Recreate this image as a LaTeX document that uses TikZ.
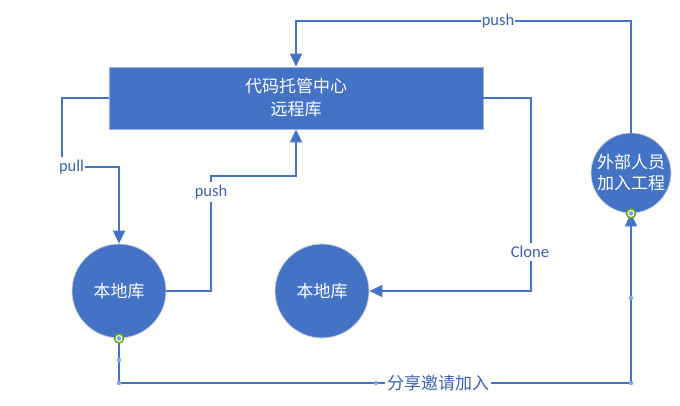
\documentclass[tikz,border=0pt]{standalone}
\usepackage{fontspec}
\setmainfont{Carlito}
\newfontfamily\cjk{Noto Sans CJK SC}
\usetikzlibrary{arrows.meta}
\definecolor{mainblue}{HTML}{4472C4}
\definecolor{lblblue}{HTML}{3A62AE}
\definecolor{boxedge}{HTML}{9DB3DE}
\definecolor{circedge}{HTML}{C9CFDB}
\definecolor{ringgreen}{HTML}{6AA621}
\definecolor{handle}{HTML}{7BA4F5}
\tikzset{
  box/.style={rectangle, fill=mainblue, draw=boxedge, line width=0.8pt,
    minimum width=374pt, minimum height=62pt, text=white, align=center,
    font=\cjk\fontsize{17}{23}\selectfont},
  repo/.style={circle, fill=mainblue, draw=circedge, line width=0.8pt,
    minimum size=94pt, inner sep=0pt, text=white, align=center,
    font=\cjk\fontsize{17}{21}\selectfont},
  conn/.style={draw=mainblue, line width=1.8pt},
  arr/.style={conn, -{Triangle[length=13pt,width=12pt]}},
  lbl/.style={fill=white, text=lblblue, inner xsep=1pt, inner ysep=3pt,
    font=\fontsize{16.5}{18}\selectfont},
  cjklbl/.style={fill=white, text=lblblue, inner xsep=2pt, inner ysep=3pt,
    font=\cjk\fontsize{17}{18}\selectfont},
  ring/.style={circle, draw=ringgreen, fill=white, line width=1.6pt,
    minimum size=9pt, inner sep=0pt},
  hdot/.style={circle, fill=handle, minimum size=4.5pt, inner sep=0pt},
}
\begin{document}
\begin{tikzpicture}[x=1pt,y=-1pt]
\useasboundingbox (0,0) rectangle (680,406);

\node[box] (remote) at (296,98) {代码托管中心\\远程库};
\node[repo] (local1) at (119,291) {本地库};
\node[repo] (local2) at (322,291) {本地库};
\node[repo, minimum size=80pt] (ext) at (631,173) {外部人员\\加入工程};

% top push: ext -> remote
\draw[arr] (ext.north) -- (631,21) -- (296,21) -- (remote.north);
\node[lbl] (lpush1) at (498,21) {push};

% pull: remote -> local1
\draw[arr] (remote.west) -- (62,98) -- (62,167) -- (119,167) -- (local1.north);
\node[lbl] (lpull) at (71.5,167) {pull};

% push: local1 -> remote
\draw[arr] (local1.east) -- (211,291) -- (211,176) -- (296,176) -- (remote.south);
\node[lbl] (lpush2) at (211,192) {push};

% clone: remote -> local2
\draw[arr] (remote.east) -- (531,98) -- (531,291) -- (local2.east);
\node[lbl] (lclone) at (530,252) {Clone};

% invite: local1 -> ext
\draw[arr] (local1.south) -- (119,383) -- (631,383) -- (ext.south);
\node[cjklbl] (linvite) at (438,383) {分享邀请加入};

% selection handles
\node[ring] (r1) at (local1.south) {};
\node[hdot] at (r1) {};
\node[ring] (r2) at (ext.south) {};
\node[hdot] at (r2) {};
\node[hdot] (h1) at (119,360) {};
\node[hdot] (h2) at (119,383) {};
\node[hdot] (h3) at (376,383) {};
\node[hdot] (h4) at (631,383) {};
\node[hdot] (h5) at (631,298) {};
\end{tikzpicture}
\end{document}
